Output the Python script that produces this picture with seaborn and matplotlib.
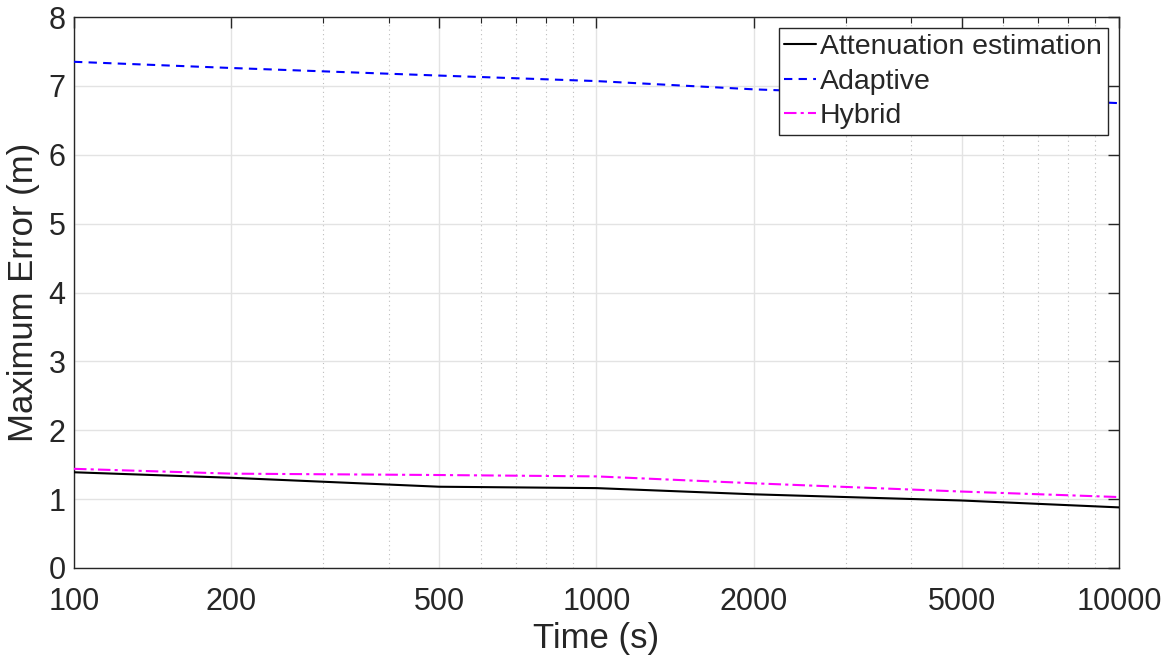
import matplotlib
matplotlib.use("Agg")
import matplotlib.pyplot as plt
from matplotlib.ticker import FixedLocator, NullFormatter, FixedFormatter
import numpy as np
import pandas as pd
import seaborn as sns

# Simulation durations (s)
time_s = [100, 200, 500, 1000, 2000, 5000, 10000]

# Maximum localisation error (m) per method
attenuation = [1.39, 1.31, 1.18, 1.16, 1.07, 0.98, 0.88]
adaptive = [7.35, 7.26, 7.15, 7.07, 6.95, 6.84, 6.75]
hybrid = [1.44, 1.37, 1.35, 1.33, 1.23, 1.11, 1.03]

method_names = ["Attenuation estimation", "Adaptive", "Hybrid"]
method_colors = ["#000000", "#0000ff", "#ff00ff"]

x_ticks = [100, 200, 500, 1000, 2000, 5000, 10000]
x_tick_labels = ["100", "200", "500", "1000", "2000", "5000", "10000"]
y_ticks = [0, 1, 2, 3, 4, 5, 6, 7, 8]

sns.set_style("white")
plt.rcParams["font.family"] = ["Liberation Sans", "DejaVu Sans"]

df = pd.DataFrame({
    "Time": time_s * 3,
    "Error": attenuation + adaptive + hybrid,
    "Method": sum([[m] * len(time_s) for m in method_names], []),
})

fig = plt.figure(figsize=(11.69, 6.60), dpi=100)
ax = fig.add_axes([0.0633, 0.1394, 0.8939, 0.8348])

line_styles = {
    "Attenuation estimation": "-",
    "Adaptive": (0, (4, 3)),
    "Hybrid": (0, (6, 2, 1.5, 2)),
}

for name, color in zip(method_names, method_colors):
    sub = df[df["Method"] == name]
    sns.lineplot(data=sub, x="Time", y="Error", ax=ax, color=color,
                 linewidth=1.5, label=name, linestyle=line_styles[name],
                 zorder=3)

ax.set_xscale("log")
ax.set_xlim(100, 10000)
ax.set_ylim(0, 8)

ax.xaxis.set_major_locator(FixedLocator(x_ticks))
ax.xaxis.set_major_formatter(FixedFormatter(x_tick_labels))
minor = [v * d for d in (100, 1000) for v in range(3, 10) if v != 5]
ax.xaxis.set_minor_locator(FixedLocator(minor))
ax.xaxis.set_minor_formatter(NullFormatter())
ax.set_yticks(y_ticks)

ax.grid(True, which="major", color="#e3e3e3", linewidth=1.0, linestyle="-", zorder=0)
ax.grid(True, which="minor", axis="x", color="#bdbdbd", linewidth=0.8,
        linestyle=(0, (1, 3)), zorder=0)
ax.set_axisbelow(True)

for s in ax.spines.values():
    s.set_visible(True)
    s.set_color("#262626")
    s.set_linewidth(1.0)

ax.tick_params(axis="both", which="major", direction="in", length=8, width=1.0,
               color="#262626", labelsize=22, labelcolor="#262626",
               top=True, right=True)
ax.tick_params(axis="x", which="major", pad=14)
ax.tick_params(axis="y", which="major", pad=6)
ax.tick_params(axis="x", which="minor", direction="in", length=4, width=0.8,
               color="#262626", top=True)

ax.set_xlabel("Time (s)", fontsize=25, color="#262626", labelpad=3)
ax.set_ylabel("Maximum Error (m)", fontsize=25, color="#262626", labelpad=6)

leg = ax.legend(loc="upper right", fontsize=20.5, frameon=True, fancybox=False,
                edgecolor="#262626", framealpha=1.0, handlelength=1.1,
                handletextpad=0.15, borderpad=0.2, labelspacing=0.3,
                borderaxespad=0.4)
leg.get_frame().set_linewidth(1.0)

fig.savefig("out.png", dpi=100)
